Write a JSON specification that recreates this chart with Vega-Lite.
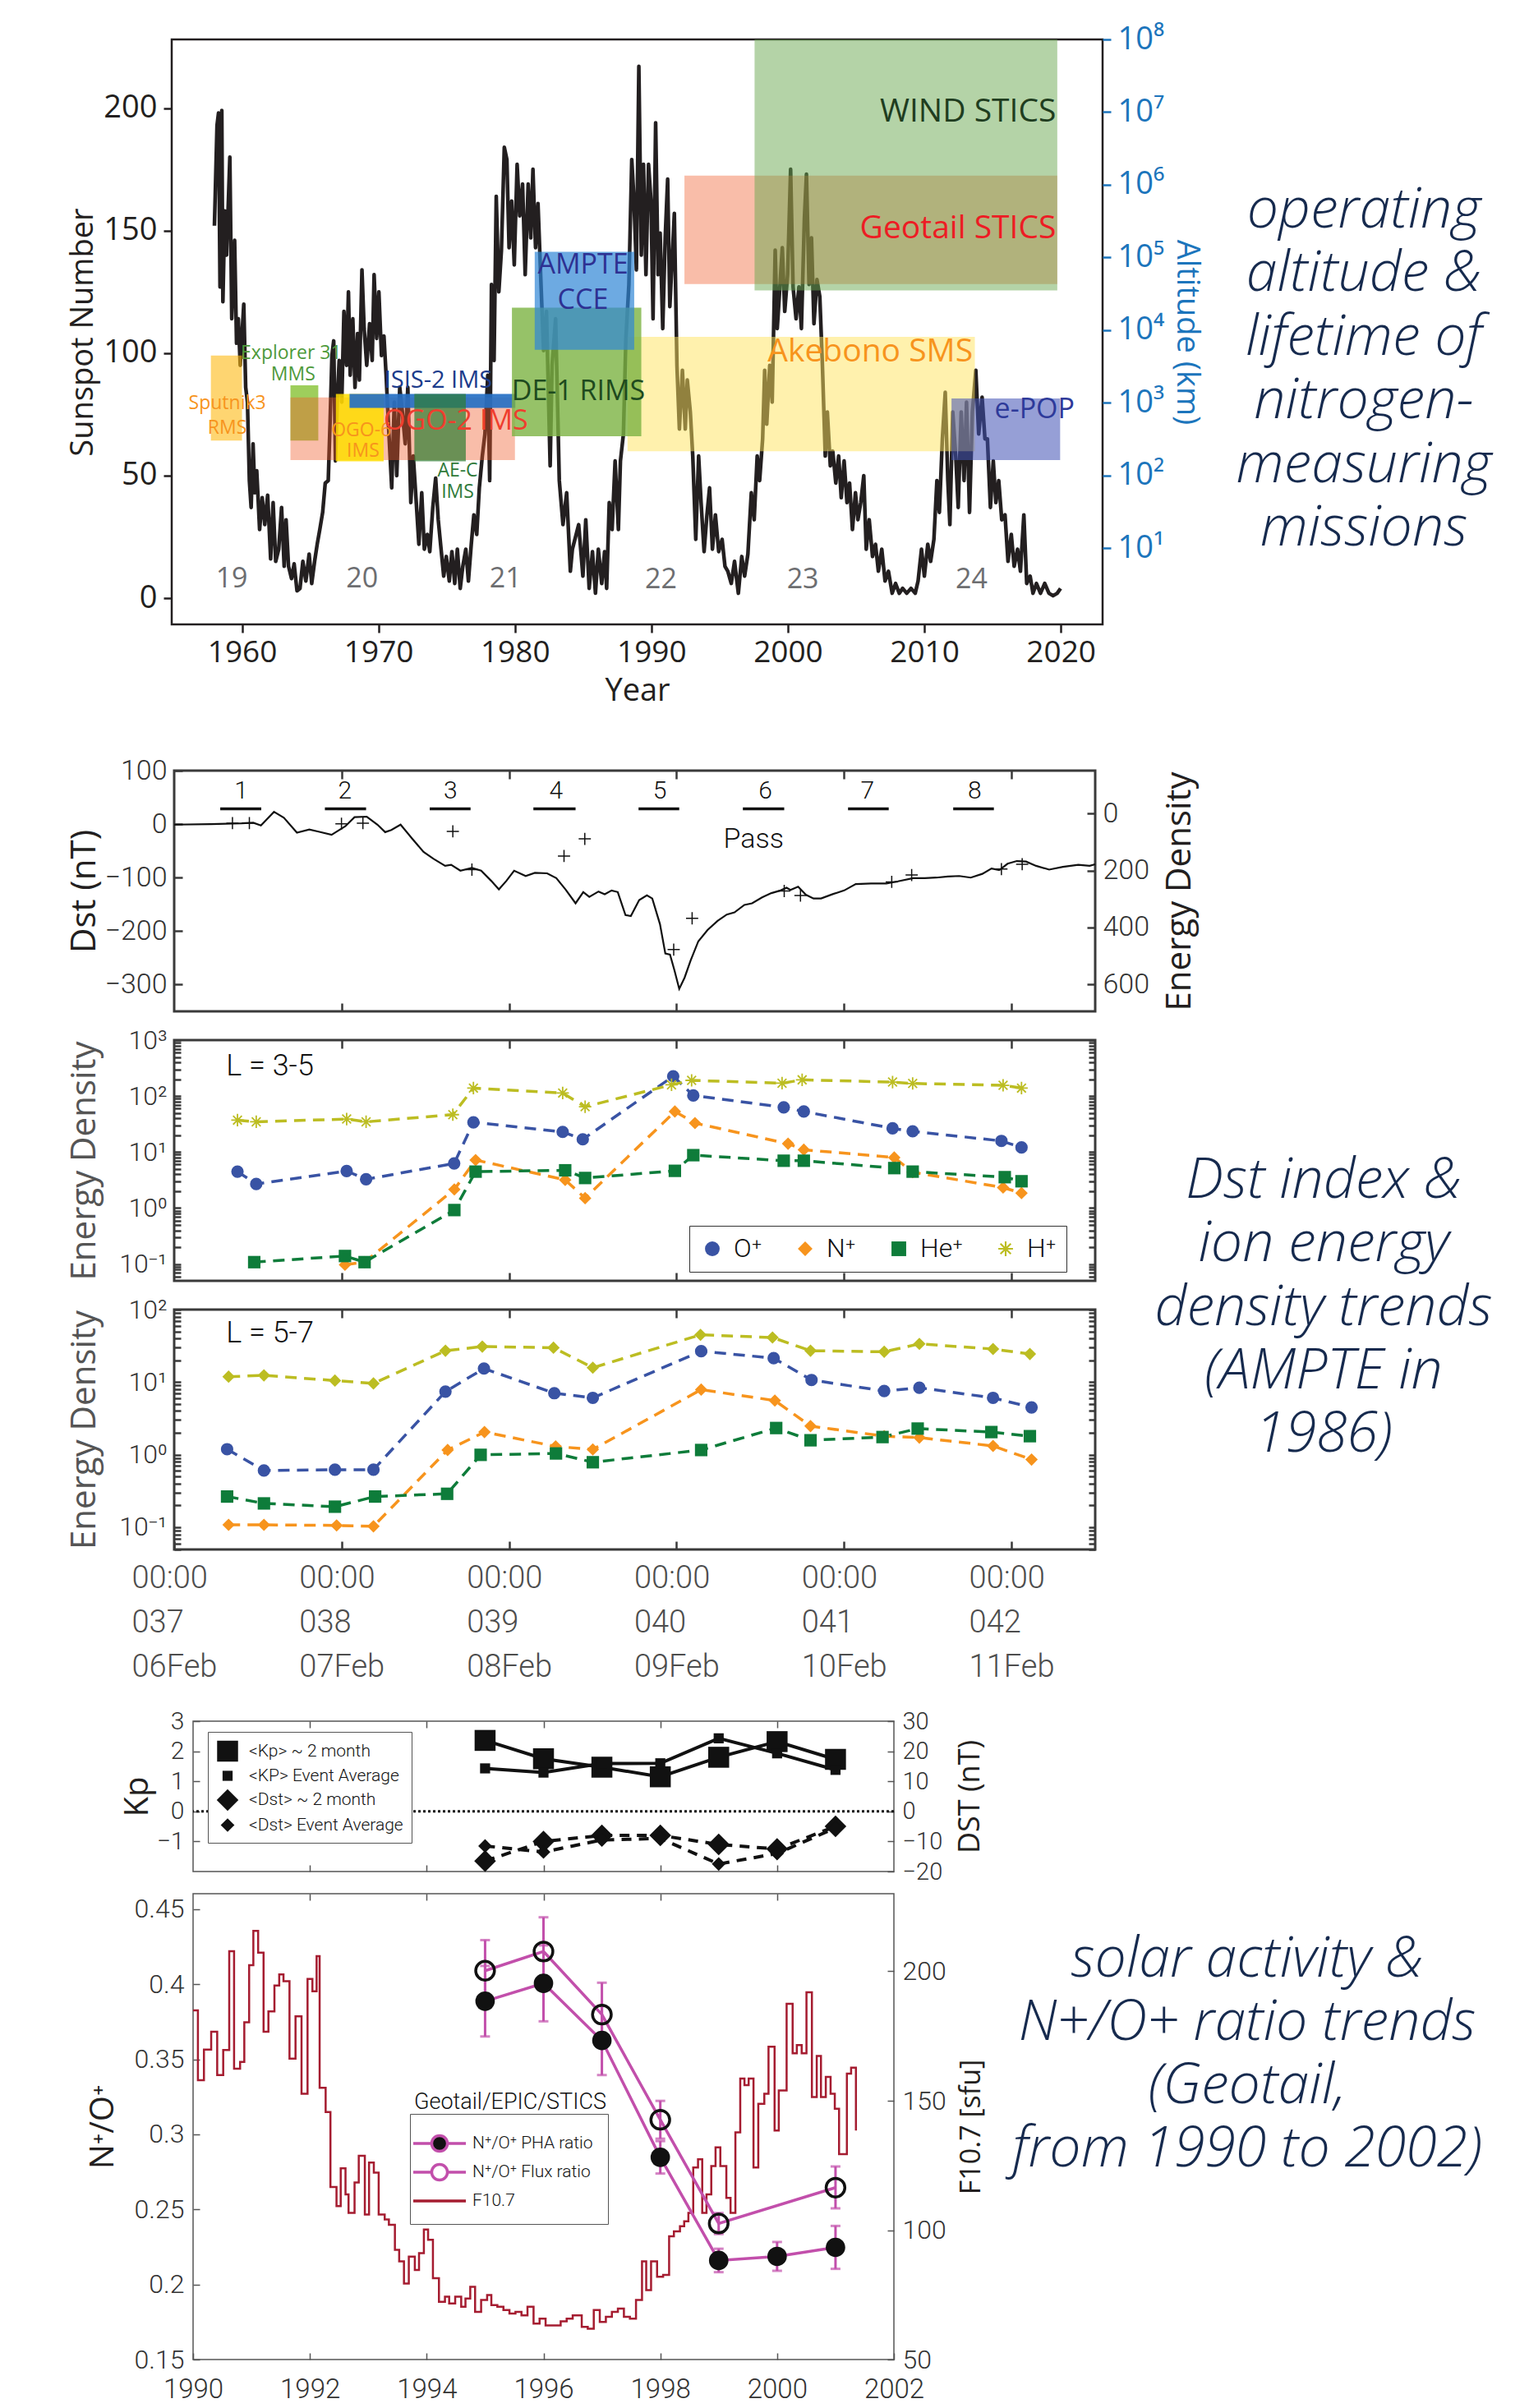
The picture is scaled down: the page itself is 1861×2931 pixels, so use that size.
{
  "$schema": "https://vega.github.io/schema/vega-lite/v6.json",
  "background": "white",
  "padding": {"left": 78, "top": 27, "right": 0, "bottom": 0},
  "config": {
    "font": "Open Sans",
    "view": {"stroke": null},
    "axis": {"grid": false, "domain": false, "labelOverlap": false, "labelColor": "#231F20", "titleColor": "#231F20", "tickColor": "#231F20", "titleFontWeight": "normal", "labelFont": "Open Sans", "titleFont": "Open Sans"},
    "legend": {"titleFontWeight": "normal"}
  },
  "datasets": {
    "ssn": [
      {"year":1957.98,"ssn":152},{"year":1958.17,"ssn":193},{"year":1958.28,"ssn":198},{"year":1958.39,"ssn":127},{"year":1958.52,"ssn":199},{"year":1958.60,"ssn":121},{"year":1958.74,"ssn":158},{"year":1958.87,"ssn":140},{"year":1959.11,"ssn":180},{"year":1959.25,"ssn":114},{"year":1959.46,"ssn":146},{"year":1959.60,"ssn":104},{"year":1959.73,"ssn":114},{"year":1959.87,"ssn":95},{"year":1960.13,"ssn":120},{"year":1960.27,"ssn":86},{"year":1960.40,"ssn":80},{"year":1960.54,"ssn":48},{"year":1960.67,"ssn":37},{"year":1960.81,"ssn":63},{"year":1960.94,"ssn":43},{"year":1961.08,"ssn":52},{"year":1961.29,"ssn":28},{"year":1961.48,"ssn":41},{"year":1961.67,"ssn":30},{"year":1961.88,"ssn":42},{"year":1962.10,"ssn":16},{"year":1962.28,"ssn":39},{"year":1962.47,"ssn":15},{"year":1962.69,"ssn":20},{"year":1962.90,"ssn":37},{"year":1963.09,"ssn":13},{"year":1963.23,"ssn":32},{"year":1963.41,"ssn":13},{"year":1963.63,"ssn":8},{"year":1963.82,"ssn":14},{"year":1964.03,"ssn":3},{"year":1964.25,"ssn":4},{"year":1964.46,"ssn":15},{"year":1964.68,"ssn":7},{"year":1964.92,"ssn":18},{"year":1965.11,"ssn":6},{"year":1965.32,"ssn":15},{"year":1965.51,"ssn":22},{"year":1965.70,"ssn":28},{"year":1965.91,"ssn":35},{"year":1966.10,"ssn":47},{"year":1966.32,"ssn":48},{"year":1966.45,"ssn":71},{"year":1966.59,"ssn":99},{"year":1966.72,"ssn":105},{"year":1966.85,"ssn":56},{"year":1966.99,"ssn":82},{"year":1967.12,"ssn":97},{"year":1967.31,"ssn":80},{"year":1967.47,"ssn":117},{"year":1967.66,"ssn":95},{"year":1967.80,"ssn":125},{"year":1967.93,"ssn":91},{"year":1968.12,"ssn":114},{"year":1968.28,"ssn":86},{"year":1968.47,"ssn":108},{"year":1968.60,"ssn":89},{"year":1968.79,"ssn":134},{"year":1968.95,"ssn":110},{"year":1969.14,"ssn":95},{"year":1969.35,"ssn":112},{"year":1969.54,"ssn":97},{"year":1969.68,"ssn":132},{"year":1969.87,"ssn":106},{"year":1970.03,"ssn":125},{"year":1970.22,"ssn":99},{"year":1970.40,"ssn":107},{"year":1970.56,"ssn":91},{"year":1970.75,"ssn":69},{"year":1970.97,"ssn":45},{"year":1971.16,"ssn":80},{"year":1971.34,"ssn":50},{"year":1971.56,"ssn":86},{"year":1971.75,"ssn":76},{"year":1971.96,"ssn":63},{"year":1972.15,"ssn":86},{"year":1972.37,"ssn":39},{"year":1972.55,"ssn":58},{"year":1972.77,"ssn":39},{"year":1972.96,"ssn":22},{"year":1973.17,"ssn":43},{"year":1973.36,"ssn":20},{"year":1973.58,"ssn":26},{"year":1973.76,"ssn":19},{"year":1973.98,"ssn":37},{"year":1974.19,"ssn":49},{"year":1974.38,"ssn":32},{"year":1974.57,"ssn":21},{"year":1974.78,"ssn":9},{"year":1974.97,"ssn":17},{"year":1975.19,"ssn":7},{"year":1975.38,"ssn":19},{"year":1975.59,"ssn":6},{"year":1975.78,"ssn":20},{"year":1975.99,"ssn":4},{"year":1976.18,"ssn":13},{"year":1976.40,"ssn":20},{"year":1976.59,"ssn":7},{"year":1976.80,"ssn":22},{"year":1976.99,"ssn":34},{"year":1977.20,"ssn":26},{"year":1977.39,"ssn":45},{"year":1977.61,"ssn":58},{"year":1977.80,"ssn":67},{"year":1978.01,"ssn":91},{"year":1978.15,"ssn":48},{"year":1978.28,"ssn":128},{"year":1978.47,"ssn":97},{"year":1978.63,"ssn":164},{"year":1978.82,"ssn":125},{"year":1979.01,"ssn":142},{"year":1979.22,"ssn":184},{"year":1979.41,"ssn":179},{"year":1979.57,"ssn":143},{"year":1979.76,"ssn":162},{"year":1979.95,"ssn":136},{"year":1980.16,"ssn":177},{"year":1980.35,"ssn":156},{"year":1980.56,"ssn":169},{"year":1980.75,"ssn":132},{"year":1980.97,"ssn":169},{"year":1981.16,"ssn":147},{"year":1981.32,"ssn":175},{"year":1981.51,"ssn":143},{"year":1981.69,"ssn":161},{"year":1981.91,"ssn":128},{"year":1982.10,"ssn":101},{"year":1982.31,"ssn":117},{"year":1982.58,"ssn":54},{"year":1982.72,"ssn":95},{"year":1982.98,"ssn":114},{"year":1983.25,"ssn":48},{"year":1983.52,"ssn":30},{"year":1983.79,"ssn":43},{"year":1984.06,"ssn":11},{"year":1984.21,"ssn":20},{"year":1984.67,"ssn":30},{"year":1984.98,"ssn":9},{"year":1985.19,"ssn":32},{"year":1985.44,"ssn":4},{"year":1985.68,"ssn":19},{"year":1985.90,"ssn":2},{"year":1986.11,"ssn":20},{"year":1986.36,"ssn":6},{"year":1986.57,"ssn":19},{"year":1986.72,"ssn":4},{"year":1986.91,"ssn":39},{"year":1987.12,"ssn":28},{"year":1987.34,"ssn":56},{"year":1987.58,"ssn":28},{"year":1987.73,"ssn":56},{"year":1987.95,"ssn":67},{"year":1988.13,"ssn":106},{"year":1988.35,"ssn":128},{"year":1988.56,"ssn":179},{"year":1988.71,"ssn":164},{"year":1988.90,"ssn":134},{"year":1989.08,"ssn":217},{"year":1989.26,"ssn":140},{"year":1989.42,"ssn":177},{"year":1989.60,"ssn":132},{"year":1989.79,"ssn":177},{"year":1989.97,"ssn":162},{"year":1990.12,"ssn":114},{"year":1990.31,"ssn":194},{"year":1990.49,"ssn":132},{"year":1990.64,"ssn":149},{"year":1990.83,"ssn":110},{"year":1991.01,"ssn":147},{"year":1991.19,"ssn":171},{"year":1991.35,"ssn":119},{"year":1991.50,"ssn":136},{"year":1991.68,"ssn":157},{"year":1991.87,"ssn":95},{"year":1992.05,"ssn":69},{"year":1992.27,"ssn":93},{"year":1992.48,"ssn":69},{"year":1992.63,"ssn":89},{"year":1992.85,"ssn":76},{"year":1993.03,"ssn":58},{"year":1993.25,"ssn":24},{"year":1993.46,"ssn":58},{"year":1993.64,"ssn":39},{"year":1993.86,"ssn":19},{"year":1994.07,"ssn":34},{"year":1994.26,"ssn":45},{"year":1994.47,"ssn":20},{"year":1994.69,"ssn":34},{"year":1994.93,"ssn":19},{"year":1995.18,"ssn":24},{"year":1995.39,"ssn":13},{"year":1995.60,"ssn":11},{"year":1995.85,"ssn":6},{"year":1996.09,"ssn":15},{"year":1996.37,"ssn":2},{"year":1996.62,"ssn":17},{"year":1996.83,"ssn":9},{"year":1997.07,"ssn":18},{"year":1997.32,"ssn":43},{"year":1997.53,"ssn":32},{"year":1997.75,"ssn":58},{"year":1997.93,"ssn":48},{"year":1998.15,"ssn":65},{"year":1998.30,"ssn":93},{"year":1998.45,"ssn":71},{"year":1998.67,"ssn":95},{"year":1998.85,"ssn":80},{"year":1999.07,"ssn":142},{"year":1999.22,"ssn":110},{"year":1999.37,"ssn":123},{"year":1999.59,"ssn":143},{"year":1999.77,"ssn":117},{"year":1999.98,"ssn":132},{"year":2000.20,"ssn":175},{"year":2000.38,"ssn":127},{"year":2000.60,"ssn":114},{"year":2000.81,"ssn":127},{"year":2000.99,"ssn":110},{"year":2001.21,"ssn":155},{"year":2001.36,"ssn":173},{"year":2001.55,"ssn":128},{"year":2001.73,"ssn":147},{"year":2001.91,"ssn":112},{"year":2002.13,"ssn":130},{"year":2002.34,"ssn":123},{"year":2002.53,"ssn":95},{"year":2002.74,"ssn":58},{"year":2002.89,"ssn":76},{"year":2003.11,"ssn":54},{"year":2003.29,"ssn":60},{"year":2003.51,"ssn":47},{"year":2003.72,"ssn":58},{"year":2003.91,"ssn":41},{"year":2004.12,"ssn":56},{"year":2004.33,"ssn":39},{"year":2004.52,"ssn":47},{"year":2004.73,"ssn":28},{"year":2004.95,"ssn":43},{"year":2005.13,"ssn":32},{"year":2005.34,"ssn":39},{"year":2005.56,"ssn":50},{"year":2005.74,"ssn":20},{"year":2005.96,"ssn":32},{"year":2006.20,"ssn":17},{"year":2006.42,"ssn":22},{"year":2006.63,"ssn":11},{"year":2006.88,"ssn":20},{"year":2007.12,"ssn":7},{"year":2007.37,"ssn":11},{"year":2007.64,"ssn":2},{"year":2007.89,"ssn":6},{"year":2008.16,"ssn":2},{"year":2008.41,"ssn":4},{"year":2008.71,"ssn":2},{"year":2009.02,"ssn":4},{"year":2009.33,"ssn":2},{"year":2009.54,"ssn":7},{"year":2009.79,"ssn":20},{"year":2010.00,"ssn":9},{"year":2010.25,"ssn":22},{"year":2010.46,"ssn":15},{"year":2010.70,"ssn":24},{"year":2010.92,"ssn":48},{"year":2011.10,"ssn":35},{"year":2011.32,"ssn":65},{"year":2011.53,"ssn":84},{"year":2011.72,"ssn":48},{"year":2011.87,"ssn":30},{"year":2012.08,"ssn":76},{"year":2012.30,"ssn":58},{"year":2012.48,"ssn":37},{"year":2012.70,"ssn":76},{"year":2012.91,"ssn":48},{"year":2013.09,"ssn":80},{"year":2013.31,"ssn":35},{"year":2013.52,"ssn":76},{"year":2013.77,"ssn":93},{"year":2013.98,"ssn":67},{"year":2014.23,"ssn":82},{"year":2014.44,"ssn":65},{"year":2014.62,"ssn":65},{"year":2014.84,"ssn":37},{"year":2015.05,"ssn":56},{"year":2015.24,"ssn":39},{"year":2015.45,"ssn":48},{"year":2015.67,"ssn":32},{"year":2015.91,"ssn":34},{"year":2016.13,"ssn":15},{"year":2016.37,"ssn":26},{"year":2016.58,"ssn":13},{"year":2016.83,"ssn":20},{"year":2017.04,"ssn":11},{"year":2017.29,"ssn":34},{"year":2017.50,"ssn":6},{"year":2017.75,"ssn":9},{"year":2017.96,"ssn":2},{"year":2018.21,"ssn":6},{"year":2018.51,"ssn":2},{"year":2018.82,"ssn":6},{"year":2019.13,"ssn":2},{"year":2019.43,"ssn":1},{"year":2019.74,"ssn":2},{"year":2019.98,"ssn":4}
    ],
    "cycles": [
      {"cycle":"19","year":1959.25,"ssn":7.8},{"cycle":"20","year":1968.8,"ssn":7.8},{"cycle":"21","year":1979.3,"ssn":7.8},{"cycle":"22","year":1990.7,"ssn":7.5},{"cycle":"23","year":2001.09,"ssn":7.5},{"cycle":"24","year":2013.46,"ssn":7.5}
    ],
    "missions": [
      {"mission":"Sputnik3 RMS","start":1957.72,"end":1960.0,"alt_lo":302,"alt_hi":4467},
      {"mission":"Explorer 31 MMS","start":1963.55,"end":1965.59,"alt_lo":302,"alt_hi":1738},
      {"mission":"OGO-2 IMS","start":1963.55,"end":1980.0,"alt_lo":163,"alt_hi":1180},
      {"mission":"OGO-6 IMS","start":1966.88,"end":1970.38,"alt_lo":156,"alt_hi":1324},
      {"mission":"ISIS-2 IMS","start":1967.88,"end":1980.03,"alt_lo":847,"alt_hi":1324},
      {"mission":"AE-C IMS","start":1972.63,"end":1976.4,"alt_lo":156,"alt_hi":1324},
      {"mission":"Akebono SMS","start":1988.25,"end":2013.7,"alt_lo":215,"alt_hi":8050},
      {"mission":"DE-1 RIMS","start":1979.78,"end":1989.26,"alt_lo":346,"alt_hi":20280},
      {"mission":"AMPTE CCE","start":1981.45,"end":1988.74,"alt_lo":5370,"alt_hi":119700},
      {"mission":"Geotail STICS","start":1992.42,"end":2019.74,"alt_lo":42960,"alt_hi":1333000},
      {"mission":"WIND STICS","start":1997.56,"end":2019.74,"alt_lo":35080,"alt_hi":100000000},
      {"mission":"e-POP","start":2011.99,"end":2019.95,"alt_lo":163,"alt_hi":1148}
    ],
    "lab_small": [
      {"label":"Sputnik3","mission":"Sputnik3 RMS","year":1958.92,"alt":977},
      {"label":"RMS","mission":"Sputnik3 RMS","year":1958.92,"alt":449},
      {"label":"Explorer 31","mission":"Explorer 31 MMS","year":1963.6,"alt":4786},
      {"label":"MMS","mission":"Explorer 31 MMS","year":1963.75,"alt":2427},
      {"label":"OGO-6","mission":"OGO-6 IMS","year":1968.74,"alt":411},
      {"label":"IMS","mission":"OGO-6 IMS","year":1968.87,"alt":214},
      {"label":"AE-C","mission":"AE-C IMS","year":1975.8,"alt":117},
      {"label":"IMS","mission":"AE-C IMS","year":1975.8,"alt":59.4}
    ],
    "lab_isis": [
      {"label":"ISIS-2 IMS","mission":"ISIS-2 IMS","year":1974.38,"alt":2013}
    ],
    "lab_mid": [
      {"label":"OGO-2 IMS","mission":"OGO-2 IMS","year":1975.67,"alt":557},
      {"label":"DE-1 RIMS","mission":"DE-1 RIMS","year":1984.65,"alt":1403},
      {"label":"AMPTE","mission":"AMPTE CCE","year":1984.98,"alt":77600},
      {"label":"CCE","mission":"AMPTE CCE","year":1984.98,"alt":25700}
    ],
    "lab_right": [
      {"label":"WIND STICS","mission":"WIND STICS","year":2019.65,"alt":10000000},
      {"label":"Geotail STICS","mission":"Geotail STICS","year":2019.65,"alt":251000},
      {"label":"Akebono SMS","mission":"Akebono SMS","year":2013.55,"alt":5000}
    ],
    "lab_left": [
      {"label":"e-POP","mission":"e-POP","year":2015.15,"alt":789}
    ],
    "dst": [
      {"day":37.000,"dst":-1},{"day":37.220,"dst":0},{"day":37.403,"dst":1.5},{"day":37.472,"dst":2.6},{"day":37.518,"dst":-2.6},{"day":37.596,"dst":23},{"day":37.655,"dst":12},{"day":37.733,"dst":-16},{"day":37.807,"dst":-10},{"day":37.862,"dst":-14},{"day":37.940,"dst":-20},{"day":38.022,"dst":-4},{"day":38.077,"dst":13},{"day":38.150,"dst":14},{"day":38.214,"dst":-1},{"day":38.260,"dst":-15},{"day":38.297,"dst":-11},{"day":38.352,"dst":-1},{"day":38.421,"dst":-27},{"day":38.489,"dst":-52},{"day":38.549,"dst":-65},{"day":38.618,"dst":-78},{"day":38.654,"dst":-76},{"day":38.709,"dst":-87},{"day":38.778,"dst":-82},{"day":38.833,"dst":-87},{"day":38.893,"dst":-106},{"day":38.939,"dst":-122},{"day":38.984,"dst":-106},{"day":39.030,"dst":-87},{"day":39.099,"dst":-97},{"day":39.154,"dst":-91},{"day":39.227,"dst":-92},{"day":39.282,"dst":-101},{"day":39.337,"dst":-122},{"day":39.397,"dst":-148},{"day":39.443,"dst":-127},{"day":39.479,"dst":-136},{"day":39.534,"dst":-126},{"day":39.571,"dst":-131},{"day":39.612,"dst":-124},{"day":39.649,"dst":-127},{"day":39.695,"dst":-170},{"day":39.727,"dst":-172},{"day":39.777,"dst":-142},{"day":39.823,"dst":-133},{"day":39.855,"dst":-139},{"day":39.901,"dst":-187},{"day":39.933,"dst":-242},{"day":39.961,"dst":-244},{"day":39.988,"dst":-274},{"day":40.016,"dst":-308},{"day":40.048,"dst":-287},{"day":40.084,"dst":-255},{"day":40.130,"dst":-219},{"day":40.185,"dst":-198},{"day":40.245,"dst":-181},{"day":40.300,"dst":-169},{"day":40.346,"dst":-165},{"day":40.405,"dst":-151},{"day":40.451,"dst":-148},{"day":40.511,"dst":-137},{"day":40.566,"dst":-129},{"day":40.621,"dst":-124},{"day":40.657,"dst":-119},{"day":40.680,"dst":-123},{"day":40.726,"dst":-117},{"day":40.772,"dst":-132},{"day":40.818,"dst":-139},{"day":40.863,"dst":-139},{"day":40.932,"dst":-131},{"day":41.001,"dst":-124},{"day":41.070,"dst":-112},{"day":41.161,"dst":-111},{"day":41.253,"dst":-111},{"day":41.322,"dst":-107},{"day":41.413,"dst":-101},{"day":41.482,"dst":-101},{"day":41.551,"dst":-100},{"day":41.620,"dst":-98},{"day":41.688,"dst":-97},{"day":41.757,"dst":-100},{"day":41.826,"dst":-93},{"day":41.881,"dst":-83},{"day":41.927,"dst":-86},{"day":41.977,"dst":-74},{"day":42.032,"dst":-69},{"day":42.087,"dst":-70},{"day":42.147,"dst":-78},{"day":42.225,"dst":-85},{"day":42.307,"dst":-80},{"day":42.399,"dst":-76},{"day":42.467,"dst":-78},{"day":42.500,"dst":-75}
    ],
    "crosses": [
      {"day":37.348,"ed":33.6},{"day":37.449,"ed":33.6},{"day":37.999,"ed":35.6},{"day":38.127,"ed":33.6},{"day":38.664,"ed":62.5},{"day":38.778,"ed":197},{"day":39.328,"ed":149},{"day":39.452,"ed":89},{"day":39.983,"ed":478},{"day":40.093,"ed":368},{"day":40.643,"ed":272},{"day":40.740,"ed":288},{"day":41.285,"ed":240},{"day":41.404,"ed":216},{"day":41.940,"ed":195},{"day":42.064,"ed":178}
    ],
    "passes": [
      {"pass":"1","day":37.40,"d0":37.275,"d1":37.52},{"pass":"2","day":38.02,"d0":37.90,"d1":38.146},{"pass":"3","day":38.65,"d0":38.526,"d1":38.77},{"pass":"4","day":39.28,"d0":39.145,"d1":39.397},{"pass":"5","day":39.90,"d0":39.773,"d1":40.016},{"pass":"6","day":40.53,"d0":40.396,"d1":40.643},{"pass":"7","day":41.14,"d0":41.024,"d1":41.267},{"pass":"8","day":41.78,"d0":41.652,"d1":41.895}
    ],
    "l35": [
      {"ion":"O⁺","day":37.378,"v":4.47},{"ion":"O⁺","day":37.49,"v":2.69},{"ion":"O⁺","day":38.03,"v":4.57},{"ion":"O⁺","day":38.146,"v":3.26},{"ion":"O⁺","day":38.672,"v":6.27},{"ion":"O⁺","day":38.787,"v":34},{"ion":"O⁺","day":39.32,"v":22.9},{"ion":"O⁺","day":39.44,"v":16.9},{"ion":"O⁺","day":39.98,"v":226},{"ion":"O⁺","day":40.1,"v":102.6},{"ion":"O⁺","day":40.64,"v":63},{"ion":"O⁺","day":40.76,"v":53},{"ion":"O⁺","day":41.29,"v":26.5},{"ion":"O⁺","day":41.41,"v":23.5},{"ion":"O⁺","day":41.94,"v":15.8},{"ion":"O⁺","day":42.06,"v":12.1},
      {"ion":"N⁺","day":38.02,"v":0.097},{"ion":"N⁺","day":38.137,"v":0.108},{"ion":"N⁺","day":38.673,"v":2.15},{"ion":"N⁺","day":38.80,"v":7.2},{"ion":"N⁺","day":39.335,"v":3.18},{"ion":"N⁺","day":39.454,"v":1.5},{"ion":"N⁺","day":39.99,"v":53},{"ion":"N⁺","day":40.11,"v":32.9},{"ion":"N⁺","day":40.666,"v":14.1},{"ion":"N⁺","day":40.76,"v":11.0},{"ion":"N⁺","day":41.30,"v":8.0},{"ion":"N⁺","day":41.41,"v":4.37},{"ion":"N⁺","day":41.95,"v":2.32},{"ion":"N⁺","day":42.06,"v":1.85},
      {"ion":"He⁺","day":37.478,"v":0.108},{"ion":"He⁺","day":38.02,"v":0.139},{"ion":"He⁺","day":38.137,"v":0.108},{"ion":"He⁺","day":38.673,"v":0.92},{"ion":"He⁺","day":38.80,"v":4.47},{"ion":"He⁺","day":39.335,"v":4.72},{"ion":"He⁺","day":39.454,"v":3.44},{"ion":"He⁺","day":39.99,"v":4.62},{"ion":"He⁺","day":40.10,"v":8.8},{"ion":"He⁺","day":40.64,"v":7.0},{"ion":"He⁺","day":40.76,"v":7.0},{"ion":"He⁺","day":41.30,"v":5.17},{"ion":"He⁺","day":41.41,"v":4.47},{"ion":"He⁺","day":41.96,"v":3.56},{"ion":"He⁺","day":42.06,"v":3.01},
      {"ion":"H⁺","day":37.378,"v":37.2},{"ion":"H⁺","day":37.49,"v":34.7},{"ion":"H⁺","day":38.03,"v":38.9},{"ion":"H⁺","day":38.146,"v":34.7},{"ion":"H⁺","day":38.664,"v":46.6},{"ion":"H⁺","day":38.787,"v":139},{"ion":"H⁺","day":39.32,"v":113.5},{"ion":"H⁺","day":39.454,"v":64.5},{"ion":"H⁺","day":39.97,"v":159},{"ion":"H⁺","day":40.09,"v":190.7},{"ion":"H⁺","day":40.63,"v":170},{"ion":"H⁺","day":40.75,"v":195},{"ion":"H⁺","day":41.29,"v":178},{"ion":"H⁺","day":41.41,"v":168},{"ion":"H⁺","day":41.95,"v":155.7},{"ion":"H⁺","day":42.06,"v":139}
    ],
    "l57": [
      {"ion":"O⁺","day":37.316,"v":1.19},{"ion":"O⁺","day":37.536,"v":0.605},{"ion":"O⁺","day":37.96,"v":0.621},{"ion":"O⁺","day":38.19,"v":0.621},{"ion":"O⁺","day":38.62,"v":7.41},{"ion":"O⁺","day":38.85,"v":15.4},{"ion":"O⁺","day":39.27,"v":7.04},{"ion":"O⁺","day":39.50,"v":6.07},{"ion":"O⁺","day":40.147,"v":26.7},{"ion":"O⁺","day":40.58,"v":21.4},{"ion":"O⁺","day":40.806,"v":10.7},{"ion":"O⁺","day":41.24,"v":7.55},{"ion":"O⁺","day":41.45,"v":8.37},{"ion":"O⁺","day":41.89,"v":6.07},{"ion":"O⁺","day":42.12,"v":4.48},
      {"ion":"N⁺","day":37.325,"v":0.108},{"ion":"N⁺","day":37.536,"v":0.108},{"ion":"N⁺","day":37.97,"v":0.106},{"ion":"N⁺","day":38.19,"v":0.103},{"ion":"N⁺","day":38.633,"v":1.16},{"ion":"N⁺","day":38.853,"v":2.05},{"ion":"N⁺","day":39.278,"v":1.30},{"ion":"N⁺","day":39.50,"v":1.18},{"ion":"N⁺","day":40.147,"v":7.89},{"ion":"N⁺","day":40.587,"v":5.57},{"ion":"N⁺","day":40.80,"v":2.48},{"ion":"N⁺","day":41.24,"v":1.80},{"ion":"N⁺","day":41.45,"v":1.72},{"ion":"N⁺","day":41.89,"v":1.32},{"ion":"N⁺","day":42.12,"v":0.857},
      {"ion":"He⁺","day":37.316,"v":0.265},{"ion":"He⁺","day":37.536,"v":0.213},{"ion":"He⁺","day":37.96,"v":0.192},{"ion":"He⁺","day":38.20,"v":0.265},{"ion":"He⁺","day":38.63,"v":0.289},{"ion":"He⁺","day":38.83,"v":0.995},{"ion":"He⁺","day":39.28,"v":1.04},{"ion":"He⁺","day":39.50,"v":0.787},{"ion":"He⁺","day":40.147,"v":1.16},{"ion":"He⁺","day":40.595,"v":2.33},{"ion":"He⁺","day":40.80,"v":1.58},{"ion":"He⁺","day":41.23,"v":1.75},{"ion":"He⁺","day":41.44,"v":2.29},{"ion":"He⁺","day":41.88,"v":2.05},{"ion":"He⁺","day":42.11,"v":1.80},
      {"ion":"H⁺","day":37.325,"v":11.9},{"ion":"H⁺","day":37.536,"v":12.4},{"ion":"H⁺","day":37.96,"v":10.5},{"ion":"H⁺","day":38.19,"v":9.6},{"ion":"H⁺","day":38.62,"v":27.1},{"ion":"H⁺","day":38.84,"v":30.9},{"ion":"H⁺","day":39.265,"v":29.8},{"ion":"H⁺","day":39.50,"v":15.8},{"ion":"H⁺","day":40.143,"v":44.9},{"ion":"H⁺","day":40.573,"v":41.2},{"ion":"H⁺","day":40.80,"v":27.1},{"ion":"H⁺","day":41.24,"v":26.2},{"ion":"H⁺","day":41.45,"v":33.7},{"ion":"H⁺","day":41.89,"v":28.6},{"ion":"H⁺","day":42.11,"v":24.4}
    ],
    "kp": [
      {"series":"<Kp> ~ 2 month","year":1995,"kp":2.36},{"series":"<Kp> ~ 2 month","year":1996,"kp":1.75},{"series":"<Kp> ~ 2 month","year":1997,"kp":1.47},{"series":"<Kp> ~ 2 month","year":1998,"kp":1.15},{"series":"<Kp> ~ 2 month","year":1999,"kp":1.80},{"series":"<Kp> ~ 2 month","year":2000,"kp":2.32},{"series":"<Kp> ~ 2 month","year":2001,"kp":1.73},
      {"series":"<KP> Event Average","year":1995,"kp":1.43},{"series":"<KP> Event Average","year":1996,"kp":1.29},{"series":"<KP> Event Average","year":1997,"kp":1.59},{"series":"<KP> Event Average","year":1998,"kp":1.60},{"series":"<KP> Event Average","year":1999,"kp":2.43},{"series":"<KP> Event Average","year":2000,"kp":1.93},{"series":"<KP> Event Average","year":2001,"kp":1.38}
    ],
    "dstavg": [
      {"series":"<Dst> ~ 2 month","year":1995,"dst":-16.5},{"series":"<Dst> ~ 2 month","year":1996,"dst":-10},{"series":"<Dst> ~ 2 month","year":1997,"dst":-8},{"series":"<Dst> ~ 2 month","year":1998,"dst":-8},{"series":"<Dst> ~ 2 month","year":1999,"dst":-11},{"series":"<Dst> ~ 2 month","year":2000,"dst":-12.5},{"series":"<Dst> ~ 2 month","year":2001,"dst":-5},
      {"series":"<Dst> Event Average","year":1995,"dst":-11.5},{"series":"<Dst> Event Average","year":1996,"dst":-13.5},{"series":"<Dst> Event Average","year":1997,"dst":-9.5},{"series":"<Dst> Event Average","year":1998,"dst":-9},{"series":"<Dst> Event Average","year":1999,"dst":-17.5},{"series":"<Dst> Event Average","year":2000,"dst":-14},{"series":"<Dst> Event Average","year":2001,"dst":-5.5}
    ],
    "ratio": [
      {"series":"N⁺/O⁺ PHA ratio","year":1995,"r":0.3887},{"series":"N⁺/O⁺ PHA ratio","year":1996,"r":0.4006},{"series":"N⁺/O⁺ PHA ratio","year":1997,"r":0.3625},{"series":"N⁺/O⁺ PHA ratio","year":1998,"r":0.2847},{"series":"N⁺/O⁺ PHA ratio","year":1999,"r":0.2160},{"series":"N⁺/O⁺ PHA ratio","year":2000,"r":0.2187},{"series":"N⁺/O⁺ PHA ratio","year":2001,"r":0.2247},
      {"series":"N⁺/O⁺ Flux ratio","year":1995,"r":0.4090},{"series":"N⁺/O⁺ Flux ratio","year":1996,"r":0.4218},{"series":"N⁺/O⁺ Flux ratio","year":1997,"r":0.3798},{"series":"N⁺/O⁺ Flux ratio","year":1998,"r":0.3097},{"series":"N⁺/O⁺ Flux ratio","year":1999,"r":0.2406},{"series":"N⁺/O⁺ Flux ratio","year":2001,"r":0.2645}
    ],
    "ratio_err": [
      {"series":"N⁺/O⁺ PHA ratio","year":1995,"lo":0.3652,"hi":0.4122},{"series":"N⁺/O⁺ PHA ratio","year":1996,"lo":0.3753,"hi":0.4259},{"series":"N⁺/O⁺ PHA ratio","year":1997,"lo":0.3395,"hi":0.3855},{"series":"N⁺/O⁺ PHA ratio","year":1998,"lo":0.2739,"hi":0.2955},{"series":"N⁺/O⁺ PHA ratio","year":1999,"lo":0.2082,"hi":0.2238},{"series":"N⁺/O⁺ PHA ratio","year":2000,"lo":0.2091,"hi":0.2283},{"series":"N⁺/O⁺ PHA ratio","year":2001,"lo":0.2104,"hi":0.2390},
      {"series":"N⁺/O⁺ Flux ratio","year":1995,"lo":0.3886,"hi":0.4294},{"series":"N⁺/O⁺ Flux ratio","year":1996,"lo":0.3990,"hi":0.4446},{"series":"N⁺/O⁺ Flux ratio","year":1997,"lo":0.3590,"hi":0.4010},{"series":"N⁺/O⁺ Flux ratio","year":1998,"lo":0.2971,"hi":0.3223},{"series":"N⁺/O⁺ Flux ratio","year":1999,"lo":0.2336,"hi":0.2476},{"series":"N⁺/O⁺ Flux ratio","year":2001,"lo":0.2507,"hi":0.2786}
    ],
    "f107": [
      {"series":"F10.7","year":1990.000,"f107":184.9},{"series":"F10.7","year":1990.083,"f107":157.9},{"series":"F10.7","year":1990.186,"f107":169.8},{"series":"F10.7","year":1990.310,"f107":176.7},{"series":"F10.7","year":1990.413,"f107":159.9},{"series":"F10.7","year":1990.516,"f107":169.6},{"series":"F10.7","year":1990.619,"f107":207.8},{"series":"F10.7","year":1990.702,"f107":162.4},{"series":"F10.7","year":1990.805,"f107":165.0},{"series":"F10.7","year":1990.877,"f107":180.3},{"series":"F10.7","year":1990.960,"f107":202.4},{"series":"F10.7","year":1991.032,"f107":215.6},{"series":"F10.7","year":1991.114,"f107":207.2},{"series":"F10.7","year":1991.207,"f107":176.7},{"series":"F10.7","year":1991.290,"f107":184.5},{"series":"F10.7","year":1991.393,"f107":194.5},{"series":"F10.7","year":1991.475,"f107":198.8},{"series":"F10.7","year":1991.548,"f107":196.2},{"series":"F10.7","year":1991.651,"f107":166.3},{"series":"F10.7","year":1991.754,"f107":182.6},{"series":"F10.7","year":1991.857,"f107":152.7},{"series":"F10.7","year":1991.960,"f107":197.1},{"series":"F10.7","year":1992.043,"f107":192.3},{"series":"F10.7","year":1992.115,"f107":205.9},{"series":"F10.7","year":1992.167,"f107":155.0},{"series":"F10.7","year":1992.270,"f107":145.6},{"series":"F10.7","year":1992.352,"f107":116.7},{"series":"F10.7","year":1992.456,"f107":109.3},{"series":"F10.7","year":1992.528,"f107":123.9},{"series":"F10.7","year":1992.610,"f107":113.8},{"series":"F10.7","year":1992.662,"f107":106.7},{"series":"F10.7","year":1992.765,"f107":118.4},{"series":"F10.7","year":1992.837,"f107":128.7},{"series":"F10.7","year":1992.941,"f107":106.0},{"series":"F10.7","year":1993.013,"f107":126.1},{"series":"F10.7","year":1993.095,"f107":122.2},{"series":"F10.7","year":1993.178,"f107":106.0},{"series":"F10.7","year":1993.281,"f107":104.1},{"series":"F10.7","year":1993.353,"f107":102.1},{"series":"F10.7","year":1993.456,"f107":92.4},{"series":"F10.7","year":1993.529,"f107":87.9},{"series":"F10.7","year":1993.611,"f107":79.4},{"series":"F10.7","year":1993.694,"f107":89.8},{"series":"F10.7","year":1993.797,"f107":84.6},{"series":"F10.7","year":1993.869,"f107":91.1},{"series":"F10.7","year":1993.952,"f107":100.2},{"series":"F10.7","year":1994.024,"f107":96.3},{"series":"F10.7","year":1994.107,"f107":81.4},{"series":"F10.7","year":1994.210,"f107":72.3},{"series":"F10.7","year":1994.313,"f107":74.3},{"series":"F10.7","year":1994.385,"f107":71.7},{"series":"F10.7","year":1994.488,"f107":74.3},{"series":"F10.7","year":1994.591,"f107":70.4},{"series":"F10.7","year":1994.664,"f107":73.6},{"series":"F10.7","year":1994.746,"f107":78.1},{"series":"F10.7","year":1994.829,"f107":68.4},{"series":"F10.7","year":1994.932,"f107":73.0},{"series":"F10.7","year":1995.035,"f107":74.9},{"series":"F10.7","year":1995.107,"f107":71.0},{"series":"F10.7","year":1995.210,"f107":70.4},{"series":"F10.7","year":1995.314,"f107":69.1},{"series":"F10.7","year":1995.417,"f107":67.8},{"series":"F10.7","year":1995.520,"f107":68.4},{"series":"F10.7","year":1995.623,"f107":67.1},{"series":"F10.7","year":1995.726,"f107":70.4},{"series":"F10.7","year":1995.830,"f107":63.9},{"series":"F10.7","year":1995.933,"f107":65.8},{"series":"F10.7","year":1996.036,"f107":63.2},{"series":"F10.7","year":1996.139,"f107":63.2},{"series":"F10.7","year":1996.294,"f107":64.8},{"series":"F10.7","year":1996.397,"f107":65.8},{"series":"F10.7","year":1996.500,"f107":67.1},{"series":"F10.7","year":1996.655,"f107":62.6},{"series":"F10.7","year":1996.758,"f107":61.9},{"series":"F10.7","year":1996.861,"f107":69.1},{"series":"F10.7","year":1996.964,"f107":64.5},{"series":"F10.7","year":1997.068,"f107":66.5},{"series":"F10.7","year":1997.171,"f107":68.4},{"series":"F10.7","year":1997.274,"f107":69.7},{"series":"F10.7","year":1997.377,"f107":66.5},{"series":"F10.7","year":1997.480,"f107":65.8},{"series":"F10.7","year":1997.584,"f107":73.0},{"series":"F10.7","year":1997.687,"f107":87.9},{"series":"F10.7","year":1997.759,"f107":76.8},{"series":"F10.7","year":1997.842,"f107":87.9},{"series":"F10.7","year":1997.945,"f107":82.0},{"series":"F10.7","year":1998.048,"f107":82.7},{"series":"F10.7","year":1998.151,"f107":97.6},{"series":"F10.7","year":1998.233,"f107":99.5},{"series":"F10.7","year":1998.337,"f107":101.5},{"series":"F10.7","year":1998.409,"f107":103.4},{"series":"F10.7","year":1998.481,"f107":106.7},{"series":"F10.7","year":1998.564,"f107":124.2},{"series":"F10.7","year":1998.646,"f107":127.4},{"series":"F10.7","year":1998.718,"f107":106.7},{"series":"F10.7","year":1998.791,"f107":113.8},{"series":"F10.7","year":1998.873,"f107":124.8},{"series":"F10.7","year":1998.946,"f107":132.0},{"series":"F10.7","year":1999.028,"f107":124.8},{"series":"F10.7","year":1999.131,"f107":112.5},{"series":"F10.7","year":1999.203,"f107":106.7},{"series":"F10.7","year":1999.286,"f107":137.8},{"series":"F10.7","year":1999.369,"f107":158.6},{"series":"F10.7","year":1999.441,"f107":156.0},{"series":"F10.7","year":1999.513,"f107":158.6},{"series":"F10.7","year":1999.596,"f107":124.2},{"series":"F10.7","year":1999.678,"f107":148.8},{"series":"F10.7","year":1999.781,"f107":152.7},{"series":"F10.7","year":1999.853,"f107":170.9},{"series":"F10.7","year":1999.957,"f107":138.5},{"series":"F10.7","year":2000.029,"f107":154.0},{"series":"F10.7","year":2000.163,"f107":187.5},{"series":"F10.7","year":2000.266,"f107":168.3},{"series":"F10.7","year":2000.338,"f107":171.5},{"series":"F10.7","year":2000.421,"f107":168.3},{"series":"F10.7","year":2000.503,"f107":191.9},{"series":"F10.7","year":2000.596,"f107":151.4},{"series":"F10.7","year":2000.679,"f107":167.3},{"series":"F10.7","year":2000.751,"f107":151.4},{"series":"F10.7","year":2000.834,"f107":159.2},{"series":"F10.7","year":2000.916,"f107":152.7},{"series":"F10.7","year":2000.988,"f107":146.9},{"series":"F10.7","year":2001.061,"f107":129.4},{"series":"F10.7","year":2001.195,"f107":160.5},{"series":"F10.7","year":2001.267,"f107":162.8},{"series":"F10.7","year":2001.350,"f107":138.5}
    ]
  },
  "vconcat": [
    {
      "vconcat": [
        {
          "hconcat": [
            {
              "width": 1, "height": 10,
              "data": {"values": [{"t": ""}]},
              "mark": {"type": "text"},
              "encoding": {"text": {"field": "t"}}
            },
            {
              "width": 1133, "height": 712,
              "view": {"stroke": "#231F20", "strokeWidth": 2.5},
              "layer": [
                {
                  "layer": [
                    {
                      "data": {"name": "ssn"},
                      "mark": {"type": "line", "color": "#231F20", "strokeWidth": 4.5, "strokeJoin": "round"},
                      "encoding": {
                        "x": {"field": "year", "type": "quantitative", "scale": {"domain": [1954.85, 2023.06], "nice": false, "zero": false},
                              "axis": {"title": "Year", "values": [1960,1970,1980,1990,2000,2010,2020], "format": "d", "tickSize": 10, "tickWidth": 2.5, "labelFontSize": 37, "titleFontSize": 38, "labelPadding": 6, "titlePadding": 10, "labelFlush": false}},
                        "y": {"field": "ssn", "type": "quantitative", "scale": {"domain": [-10.7, 228], "nice": false, "zero": false},
                              "axis": {"title": "Sunspot Number", "values": [0,50,100,150,200], "tickSize": 10, "tickWidth": 2.5, "labelFontSize": 38, "titleFontSize": 38, "labelPadding": 8, "titleX": -127, "titleBaseline": "top"}}
                      }
                    },
                    {
                      "data": {"name": "cycles"},
                      "mark": {"type": "text", "fontSize": 34, "color": "#6D6E71"},
                      "encoding": {
                        "x": {"field": "year", "type": "quantitative"},
                        "y": {"field": "ssn", "type": "quantitative"},
                        "text": {"field": "cycle"}
                      }
                    }
                  ]
                },
                {
                  "layer": [
                    {
                      "data": {"name": "missions"},
                      "mark": {"type": "rect"},
                      "encoding": {
                        "x": {"field": "start", "type": "quantitative"},
                        "x2": {"field": "end"},
                        "y": {"field": "alt_lo", "type": "quantitative", "scale": {"type": "log", "domain": [0.891, 100000000], "nice": false},
                              "axis": {"orient": "right", "title": "Altitude (km)", "values": [10,100,1000,10000,100000,1000000,10000000,100000000],
                                       "labelExpr": "'10' + ['⁰','¹','²','³','⁴','⁵','⁶','⁷','⁸'][round(log(datum.value)/LN10)]",
                                       "tickSize": 10, "tickWidth": 2.5, "tickColor": "#1C75BC", "labelColor": "#1C75BC", "titleColor": "#1C75BC", "labelFontSize": 38, "titleFontSize": 38, "labelPadding": 8, "titlePadding": 8}},
                        "y2": {"field": "alt_hi"},
                        "color": {"field": "mission", "type": "nominal", "legend": null,
                                  "scale": {"domain": ["Sputnik3 RMS","Explorer 31 MMS","OGO-2 IMS","OGO-6 IMS","ISIS-2 IMS","AE-C IMS","Akebono SMS","DE-1 RIMS","AMPTE CCE","Geotail STICS","WIND STICS","e-POP"],
                                            "range": ["rgba(253,185,19,0.6)","rgba(141,198,63,0.85)","rgba(241,90,41,0.4)","rgba(255,222,0,0.85)","rgba(38,112,196,0.92)","rgba(46,125,50,0.7)","rgba(255,228,92,0.5)","rgba(124,179,66,0.8)","rgba(47,134,214,0.7)","rgba(241,90,41,0.4)","rgba(106,168,79,0.5)","rgba(63,81,181,0.55)"]}}
                      }
                    },
                    {
                      "data": {"name": "lab_small"},
                      "mark": {"type": "text", "fontSize": 23},
                      "encoding": {
                        "x": {"field": "year", "type": "quantitative"},
                        "y": {"field": "alt", "type": "quantitative"},
                        "text": {"field": "label"},
                        "fill": {"field": "mission", "type": "nominal", "legend": null,
                                 "scale": {"domain": ["Sputnik3 RMS","Explorer 31 MMS","OGO-2 IMS","OGO-6 IMS","ISIS-2 IMS","AE-C IMS","Akebono SMS","DE-1 RIMS","AMPTE CCE","Geotail STICS","WIND STICS","e-POP"],
                                           "range": ["#F7941D","#4E9A3A","#EF3E2E","#F7941D","#1C3C8C","#2F7A3A","#F7941D","#1E4A1E","#2E3192","#ED1C24","#1F3D1F","#2E3A9A"]}}
                      }
                    },
                    {
                      "data": {"name": "lab_isis"},
                      "mark": {"type": "text", "fontSize": 29},
                      "encoding": {
                        "x": {"field": "year", "type": "quantitative"},
                        "y": {"field": "alt", "type": "quantitative"},
                        "text": {"field": "label"},
                        "fill": {"field": "mission", "type": "nominal", "legend": null}
                      }
                    },
                    {
                      "data": {"name": "lab_mid"},
                      "mark": {"type": "text", "fontSize": 34},
                      "encoding": {
                        "x": {"field": "year", "type": "quantitative"},
                        "y": {"field": "alt", "type": "quantitative"},
                        "text": {"field": "label"},
                        "fill": {"field": "mission", "type": "nominal", "legend": null}
                      }
                    },
                    {
                      "data": {"name": "lab_right"},
                      "mark": {"type": "text", "fontSize": 39, "align": "right"},
                      "encoding": {
                        "x": {"field": "year", "type": "quantitative"},
                        "y": {"field": "alt", "type": "quantitative"},
                        "text": {"field": "label"},
                        "fill": {"field": "mission", "type": "nominal", "legend": null}
                      }
                    },
                    {
                      "data": {"name": "lab_left"},
                      "mark": {"type": "text", "fontSize": 34, "align": "left"},
                      "encoding": {
                        "x": {"field": "year", "type": "quantitative"},
                        "y": {"field": "alt", "type": "quantitative"},
                        "text": {"field": "label"},
                        "fill": {"field": "mission", "type": "nominal", "legend": null}
                      }
                    }
                  ]
                }
              ],
              "resolve": {"scale": {"y": "independent"}}
            },
            {
              "width": 376, "height": 712,
              "data": {"values": [{"n":0,"t":"operating"},{"n":1,"t":"altitude &"},{"n":2,"t":"lifetime of"},{"n":3,"t":"nitrogen-"},{"n":4,"t":"measuring"},{"n":5,"t":"missions"}]},
              "mark": {"type": "text", "fontSize": 68, "fontStyle": "italic", "fontWeight": 300, "color": "#162A4E"},
              "encoding": {
                "y": {"field": "n", "type": "quantitative", "scale": {"domain": [-2.70, 6.499], "reverse": true, "nice": false, "zero": false}, "axis": null},
                "text": {"field": "t"}
              }
            }
          ],
          "spacing": 130,
          "bounds": "flush",
          "resolve": {"scale": {"color": "independent", "fill": "independent", "stroke": "independent", "shape": "independent", "size": "independent"}, "legend": {"color": "independent", "fill": "independent", "stroke": "independent", "shape": "independent", "size": "independent"}}
        },
        {
          "concat": [
            {
              "width": 4, "height": 10,
              "data": {"values": [{"t": ""}]},
              "mark": {"type": "text"},
              "encoding": {"text": {"field": "t"}}
            },
            {
              "width": 1121, "height": 293,
              "view": {"stroke": "#3A3A3A", "strokeWidth": 3},
              "layer": [
                {
                  "layer": [
                    {
                      "data": {"name": "dst"},
                      "mark": {"type": "line", "color": "#111111", "strokeWidth": 2.2},
                      "encoding": {
                        "x": {"field": "day", "type": "quantitative", "scale": {"domain": [37, 42.5], "nice": false, "zero": false},
                              "axis": {"values": [38,39,40,41,42], "labels": false, "title": null, "tickSize": -10, "tickWidth": 2.5, "tickColor": "#3A3A3A"}},
                        "y": {"field": "dst", "type": "quantitative", "scale": {"domain": [-350, 100], "nice": false, "zero": false},
                              "axis": {"title": "Dst (nT)", "values": [-300,-200,-100,0,100], "labelFont": "Roboto", "labelFontWeight": 300, "labelFontSize": 34, "labelColor": "#333333", "titleFontSize": 42, "tickSize": -10, "tickWidth": 2.5, "tickColor": "#3A3A3A", "labelPadding": 19, "titleX": -130, "titleBaseline": "top"}}
                      }
                    },
                    {
                      "data": {"name": "passes"},
                      "mark": {"type": "rule", "strokeWidth": 3.5, "color": "#111111"},
                      "encoding": {
                        "x": {"field": "d0", "type": "quantitative"},
                        "x2": {"field": "d1"},
                        "y": {"datum": 28.7, "type": "quantitative"}
                      }
                    },
                    {
                      "data": {"name": "passes"},
                      "mark": {"type": "text", "font": "Roboto", "fontWeight": 300, "fontSize": 30, "color": "#111111"},
                      "encoding": {
                        "x": {"field": "day", "type": "quantitative"},
                        "y": {"datum": 61, "type": "quantitative"},
                        "text": {"field": "pass"}
                      }
                    },
                    {
                      "data": {"values": [{"t": "Pass"}]},
                      "mark": {"type": "text", "font": "Roboto", "fontWeight": 300, "fontSize": 34, "color": "#111111"},
                      "encoding": {
                        "x": {"datum": 40.46, "type": "quantitative"},
                        "y": {"datum": -29, "type": "quantitative"},
                        "text": {"field": "t"}
                      }
                    }
                  ]
                },
                {
                  "data": {"name": "crosses"},
                  "mark": {"type": "point", "shape": "M-1,0H1M0,-1V1", "size": 220, "filled": false, "strokeWidth": 1.5, "color": "#111111", "opacity": 1},
                  "encoding": {
                    "x": {"field": "day", "type": "quantitative",
                          "axis": {"orient": "top", "values": [38,39,40,41,42], "labels": false, "title": null, "tickSize": -10, "tickWidth": 2.5, "tickColor": "#3A3A3A"}},
                    "y": {"field": "ed", "type": "quantitative", "scale": {"domain": [-151, 695], "reverse": true, "nice": false, "zero": false},
                          "axis": {"orient": "right", "title": "Energy Density", "titleAngle": 270, "titleBaseline": "top", "values": [0,200,400,600], "labelFont": "Roboto", "labelFontWeight": 300, "labelFontSize": 34, "labelColor": "#333333", "titleFontSize": 42, "tickSize": -10, "tickWidth": 2.5, "tickColor": "#3A3A3A", "labelPadding": 19, "titlePadding": 17}}
                  }
                }
              ],
              "resolve": {"scale": {"y": "independent"}, "axis": {"x": "independent"}}
            },
            {
              "width": 10, "height": 10,
              "data": {"values": [{"t": ""}]},
              "mark": {"type": "text"},
              "encoding": {"text": {"field": "t"}}
            },
            {
              "width": 4, "height": 10,
              "data": {"values": [{"t": ""}]},
              "mark": {"type": "text"},
              "encoding": {"text": {"field": "t"}}
            },
            {
              "width": 1121, "height": 293,
              "view": {"stroke": "#3A3A3A", "strokeWidth": 3},
              "layer": [
                {
                  "layer": [
                    {
                      "data": {"name": "l35"},
                      "mark": {"type": "line", "strokeDash": [14, 9], "strokeWidth": 3.5},
                      "encoding": {
                        "x": {"field": "day", "type": "quantitative", "scale": {"domain": [37, 42.5], "nice": false, "zero": false},
                              "axis": {"values": [38,39,40,41,42], "labels": false, "title": null, "tickSize": -10, "tickWidth": 2.5, "tickColor": "#3A3A3A"}},
                        "y": {"field": "v", "type": "quantitative", "scale": {"type": "log", "domain": [0.0501, 1000], "nice": false},
                              "axis": {"title": "Energy Density", "values": [0.06,0.07,0.08,0.09,0.1,0.2,0.3,0.4,0.5,0.6,0.7,0.8,0.9,1,2,3,4,5,6,7,8,9,10,20,30,40,50,60,70,80,90,100,200,300,400,500,600,700,800,900,1000],
                                       "labelExpr": "abs(log(datum.value)/LN10 - round(log(datum.value)/LN10)) < 0.01 ? ('10' + (datum.value >= 999 ? '³' : datum.value >= 99 ? '²' : datum.value >= 9 ? '¹' : datum.value >= 0.9 ? '⁰' : '⁻¹')) : ''",
                                       "labelFont": "Roboto", "labelFontWeight": 300, "labelFontSize": 32, "labelColor": "#333333", "titleFontSize": 42, "titleColor": "#555555", "tickSize": -8, "tickWidth": 2.5, "tickColor": "#3A3A3A", "labelPadding": 17, "titleX": -130, "titleBaseline": "top"}},
                        "stroke": {"field": "ion", "type": "nominal", "legend": null,
                                   "scale": {"domain": ["H⁺","He⁺","N⁺","O⁺"], "range": ["#BCBD22","#0E7C3A","#F7941D","#3953A4"]}},
                        "detail": {"field": "ion"}
                      }
                    },
                    {
                      "data": {"name": "l35"},
                      "mark": {"type": "point", "filled": true, "opacity": 1, "size": 230},
                      "encoding": {
                        "x": {"field": "day", "type": "quantitative"},
                        "y": {"field": "v", "type": "quantitative"},
                        "fill": {"field": "ion", "type": "nominal",
                                 "scale": {"domain": ["O⁺","N⁺","He⁺","H⁺"], "range": ["#3953A4","#F7941D","#0E7C3A","#BCBD22"]},
                                 "legend": {"orient": "none", "legendX": 627, "legendY": 226, "direction": "horizontal", "title": null, "strokeColor": "#333333", "fillColor": "white", "padding": 12, "columnPadding": 36, "labelOffset": 10, "labelFont": "Roboto", "labelFontWeight": 300, "labelFontSize": 32, "labelColor": "#111111", "symbolSize": 320}},
                        "shape": {"field": "ion", "type": "nominal",
                                  "scale": {"domain": ["O⁺","N⁺","He⁺","H⁺"], "range": ["circle","diamond","square","M-1,-0.12H1V0.12H-1Z M-0.12,-1H0.12V1H-0.12Z M-0.792,-0.622L-0.622,-0.792L0.792,0.622L0.622,0.792Z M-0.622,0.792L-0.792,0.622L0.622,-0.792L0.792,-0.622Z"]},
                                  "legend": {"orient": "none", "legendX": 627, "legendY": 226, "direction": "horizontal", "title": null, "strokeColor": "#333333", "fillColor": "white", "padding": 12, "columnPadding": 36, "labelOffset": 10, "labelFont": "Roboto", "labelFontWeight": 300, "labelFontSize": 32, "labelColor": "#111111", "symbolSize": 320}}
                      }
                    }
                  ]
                },
                {
                  "data": {"values": [{"t": "L = 3-5"}]},
                  "mark": {"type": "text", "align": "left", "font": "Roboto", "fontWeight": 300, "fontSize": 36, "color": "#111111"},
                  "encoding": {
                    "x": {"datum": 37.31, "type": "quantitative",
                          "axis": {"orient": "top", "values": [38,39,40,41,42], "labels": false, "title": null, "tickSize": -10, "tickWidth": 2.5, "tickColor": "#3A3A3A"}},
                    "y": {"datum": 340, "type": "quantitative",
                          "axis": {"orient": "right", "values": [0.06,0.07,0.08,0.09,0.1,0.2,0.3,0.4,0.5,0.6,0.7,0.8,0.9,1,2,3,4,5,6,7,8,9,10,20,30,40,50,60,70,80,90,100,200,300,400,500,600,700,800,900,1000], "labels": false, "title": null, "tickSize": -8, "tickWidth": 2.5, "tickColor": "#3A3A3A"}},
                    "text": {"field": "t"}
                  }
                }
              ],
              "resolve": {"axis": {"x": "independent", "y": "independent"}}
            },
            {
              "width": 296, "height": 293,
              "data": {"values": [{"n":0,"t":"Dst index &"},{"n":1,"t":"ion energy"},{"n":2,"t":"density trends"},{"n":3,"t":"(AMPTE in"},{"n":4,"t":"1986)"}]},
              "mark": {"type": "text", "fontSize": 68, "fontStyle": "italic", "fontWeight": 300, "color": "#162A4E"},
              "encoding": {
                "y": {"field": "n", "type": "quantitative", "scale": {"domain": [-2.227, 1.566], "reverse": true, "nice": false, "zero": false}, "axis": null},
                "text": {"field": "t"}
              }
            },
            {
              "width": 4, "height": 10,
              "data": {"values": [{"t": ""}]},
              "mark": {"type": "text"},
              "encoding": {"text": {"field": "t"}}
            },
            {
              "width": 1121, "height": 292,
              "view": {"stroke": "#3A3A3A", "strokeWidth": 3},
              "layer": [
                {
                  "layer": [
                    {
                      "data": {"name": "l57"},
                      "mark": {"type": "line", "strokeDash": [14, 9], "strokeWidth": 3.5},
                      "encoding": {
                        "x": {"field": "day", "type": "quantitative", "scale": {"domain": [37, 42.5], "nice": false, "zero": false},
                              "axis": {"values": [37,38,39,40,41,42], "title": null, "tickSize": -10, "tickWidth": 2.5, "tickColor": "#3A3A3A",
                                       "labelExpr": "['00:00', '0' + format(datum.value, 'd'), (datum.value < 41 ? '0' : '') + format(datum.value - 31, 'd') + 'Feb']",
                                       "labelAlign": "left", "labelOffset": -52, "labelBaseline": "top", "labelLineHeight": 54, "labelFont": "Roboto", "labelFontWeight": 300, "labelFontSize": 38, "labelColor": "#4D4D4D", "labelPadding": 26, "labelFlush": false}},
                        "y": {"field": "v", "type": "quantitative", "scale": {"type": "log", "domain": [0.0494, 100], "nice": false},
                              "axis": {"title": "Energy Density", "values": [0.05,0.06,0.07,0.08,0.09,0.1,0.2,0.3,0.4,0.5,0.6,0.7,0.8,0.9,1,2,3,4,5,6,7,8,9,10,20,30,40,50,60,70,80,90,100],
                                       "labelExpr": "abs(log(datum.value)/LN10 - round(log(datum.value)/LN10)) < 0.01 ? ('10' + (datum.value >= 99 ? '²' : datum.value >= 9 ? '¹' : datum.value >= 0.9 ? '⁰' : '⁻¹')) : ''",
                                       "labelFont": "Roboto", "labelFontWeight": 300, "labelFontSize": 32, "labelColor": "#333333", "titleFontSize": 42, "titleColor": "#555555", "tickSize": -8, "tickWidth": 2.5, "tickColor": "#3A3A3A", "labelPadding": 17, "titleX": -130, "titleBaseline": "top"}},
                        "stroke": {"field": "ion", "type": "nominal", "legend": null,
                                   "scale": {"domain": ["H⁺","He⁺","N⁺","O⁺"], "range": ["#BCBD22","#0E7C3A","#F7941D","#3953A4"]}},
                        "detail": {"field": "ion"}
                      }
                    },
                    {
                      "data": {"name": "l57"},
                      "mark": {"type": "point", "filled": true, "opacity": 1, "size": 230},
                      "encoding": {
                        "x": {"field": "day", "type": "quantitative"},
                        "y": {"field": "v", "type": "quantitative"},
                        "fill": {"field": "ion", "type": "nominal", "legend": null,
                                 "scale": {"domain": ["O⁺","N⁺","He⁺","H⁺"], "range": ["#3953A4","#F7941D","#0E7C3A","#BCBD22"]}},
                        "shape": {"field": "ion", "type": "nominal", "legend": null,
                                  "scale": {"domain": ["O⁺","N⁺","He⁺","H⁺"], "range": ["circle","diamond","square","diamond"]}}
                      }
                    }
                  ]
                },
                {
                  "data": {"values": [{"t": "L = 5-7"}]},
                  "mark": {"type": "text", "align": "left", "font": "Roboto", "fontWeight": 300, "fontSize": 36, "color": "#111111"},
                  "encoding": {
                    "x": {"datum": 37.31, "type": "quantitative",
                          "axis": {"orient": "top", "values": [38,39,40,41,42], "labels": false, "title": null, "tickSize": -10, "tickWidth": 2.5, "tickColor": "#3A3A3A"}},
                    "y": {"datum": 47, "type": "quantitative",
                          "axis": {"orient": "right", "values": [0.05,0.06,0.07,0.08,0.09,0.1,0.2,0.3,0.4,0.5,0.6,0.7,0.8,0.9,1,2,3,4,5,6,7,8,9,10,20,30,40,50,60,70,80,90,100], "labels": false, "title": null, "tickSize": -8, "tickWidth": 2.5, "tickColor": "#3A3A3A"}},
                    "text": {"field": "t"}
                  }
                }
              ],
              "resolve": {"axis": {"x": "independent", "y": "independent"}}
            },
            {
              "width": 10, "height": 10,
              "data": {"values": [{"t": ""}]},
              "mark": {"type": "text"},
              "encoding": {"text": {"field": "t"}}
            }
          ],
          "columns": 3,
          "spacing": {"row": 35, "column": 130},
          "bounds": "flush",
          "resolve": {"scale": {"color": "independent", "fill": "independent", "stroke": "independent", "shape": "independent", "size": "independent"}, "legend": {"color": "independent", "fill": "independent", "stroke": "independent", "shape": "independent", "size": "independent"}}
        }
      ],
      "spacing": 57,
      "resolve": {"scale": {"color": "independent", "fill": "independent", "stroke": "independent", "shape": "independent", "size": "independent"}, "legend": {"color": "independent", "fill": "independent", "stroke": "independent", "shape": "independent", "size": "independent"}}
    },
    {
      "concat": [
        {
          "width": 27, "height": 10,
          "data": {"values": [{"t": ""}]},
          "mark": {"type": "text"},
          "encoding": {"text": {"field": "t"}}
        },
        {
          "width": 853, "height": 183,
          "view": {"stroke": "#555555", "strokeWidth": 1.5},
          "layer": [
            {
              "layer": [
                {
                  "data": {"values": [{"z": 0}]},
                  "mark": {"type": "rule", "strokeDash": [3, 3], "strokeWidth": 3, "color": "#111111"},
                  "encoding": {
                    "y": {"field": "z", "type": "quantitative", "scale": {"domain": [-2, 3], "nice": false, "zero": false},
                          "axis": {"title": "Kp", "values": [-1,0,1,2,3], "labelFont": "Roboto", "labelFontWeight": 300, "labelFontSize": 30, "labelColor": "#333333", "titleFontSize": 40, "tickSize": -8, "tickWidth": 1.5, "tickColor": "#555555", "labelPadding": 19, "titleX": -88, "titleBaseline": "top"}}
                  }
                },
                {
                  "data": {"name": "kp"},
                  "mark": {"type": "line", "color": "#111111", "strokeWidth": 4},
                  "encoding": {
                    "x": {"field": "year", "type": "quantitative", "scale": {"domain": [1990, 2002], "nice": false, "zero": false},
                          "axis": {"values": [1992,1994,1996,1998,2000], "labels": false, "title": null, "tickSize": -8, "tickWidth": 1.5, "tickColor": "#555555"}},
                    "y": {"field": "kp", "type": "quantitative"},
                    "detail": {"field": "series"}
                  }
                },
                {
                  "data": {"name": "kp"},
                  "mark": {"type": "point", "filled": true, "color": "#111111", "opacity": 1},
                  "encoding": {
                    "x": {"field": "year", "type": "quantitative"},
                    "y": {"field": "kp", "type": "quantitative"},
                    "shape": {"field": "series", "type": "nominal",
                              "scale": {"domain": ["<Kp> ~ 2 month","<KP> Event Average","<Dst> ~ 2 month","<Dst> Event Average"], "range": ["square","square","diamond","diamond"]},
                              "legend": {"orient": "none", "legendX": 18, "legendY": 13, "title": null, "strokeColor": "#555555", "fillColor": "white", "padding": 10, "rowPadding": 2, "labelOffset": 12, "labelFont": "Roboto", "labelFontWeight": 300, "labelFontSize": 21, "labelColor": "#111111", "symbolFillColor": "#111111", "symbolStrokeColor": "#111111", "labelLimit": 300}},
                    "size": {"field": "series", "type": "nominal",
                             "scale": {"type": "ordinal", "domain": ["<Kp> ~ 2 month","<KP> Event Average","<Dst> ~ 2 month","<Dst> Event Average"], "range": [650,150,700,280]},
                             "legend": {"orient": "none", "legendX": 18, "legendY": 13, "title": null, "strokeColor": "#555555", "fillColor": "white", "padding": 10, "rowPadding": 2, "labelOffset": 12, "labelFont": "Roboto", "labelFontWeight": 300, "labelFontSize": 21, "labelColor": "#111111", "symbolFillColor": "#111111", "symbolStrokeColor": "#111111", "labelLimit": 300}}
                  }
                }
              ]
            },
            {
              "layer": [
                {
                  "data": {"name": "dstavg"},
                  "mark": {"type": "line", "color": "#111111", "strokeWidth": 4, "strokeDash": [12, 9]},
                  "encoding": {
                    "x": {"field": "year", "type": "quantitative",
                          "axis": {"orient": "top", "values": [1992,1994,1996,1998,2000], "labels": false, "title": null, "tickSize": -8, "tickWidth": 1.5, "tickColor": "#555555"}},
                    "y": {"field": "dst", "type": "quantitative", "scale": {"domain": [-20, 30], "nice": false, "zero": false},
                          "axis": {"orient": "right", "title": "DST (nT)", "titleAngle": 270, "titleBaseline": "top", "values": [-20,-10,0,10,20,30], "labelFont": "Roboto", "labelFontWeight": 300, "labelFontSize": 29, "labelColor": "#333333", "titleFontSize": 36, "tickSize": -8, "tickWidth": 1.5, "tickColor": "#555555", "labelPadding": 18, "labelOverlap": false, "labelSeparation": -20, "titlePadding": 17}},
                    "detail": {"field": "series"}
                  }
                },
                {
                  "data": {"name": "dstavg"},
                  "mark": {"type": "point", "filled": true, "color": "#111111", "opacity": 1},
                  "encoding": {
                    "x": {"field": "year", "type": "quantitative"},
                    "y": {"field": "dst", "type": "quantitative",
                          "axis": {"orient": "right", "title": "DST (nT)", "titleAngle": 270, "titleBaseline": "top", "values": [-20,-10,0,10,20,30], "labelFont": "Roboto", "labelFontWeight": 300, "labelFontSize": 29, "labelColor": "#333333", "titleFontSize": 36, "tickSize": -8, "tickWidth": 1.5, "tickColor": "#555555", "labelPadding": 18, "labelOverlap": false, "labelSeparation": -20, "titlePadding": 17}},
                    "shape": {"field": "series", "type": "nominal",
                              "scale": {"domain": ["<Kp> ~ 2 month","<KP> Event Average","<Dst> ~ 2 month","<Dst> Event Average"], "range": ["square","square","diamond","diamond"]}},
                    "size": {"field": "series", "type": "nominal",
                             "scale": {"type": "ordinal", "domain": ["<Kp> ~ 2 month","<KP> Event Average","<Dst> ~ 2 month","<Dst> Event Average"], "range": [650,150,700,280]}}
                  }
                }
              ]
            }
          ],
          "resolve": {"scale": {"y": "independent"}, "axis": {"x": "independent"}}
        },
        {
          "width": 10, "height": 10,
          "data": {"values": [{"t": ""}]},
          "mark": {"type": "text"},
          "encoding": {"text": {"field": "t"}}
        },
        {
          "width": 27, "height": 10,
          "data": {"values": [{"t": ""}]},
          "mark": {"type": "text"},
          "encoding": {"text": {"field": "t"}}
        },
        {
          "width": 853, "height": 567,
          "view": {"stroke": "#555555", "strokeWidth": 1.5},
          "layer": [
            {
              "data": {"name": "f107"},
              "mark": {"type": "line", "interpolate": "step-after", "strokeWidth": 2.5},
              "encoding": {
                "x": {"field": "year", "type": "quantitative", "scale": {"domain": [1990, 2002], "nice": false, "zero": false},
                      "axis": {"orient": "top", "values": [1992,1994,1996,1998,2000], "labels": false, "title": null, "tickSize": -8, "tickWidth": 1.5, "tickColor": "#555555"}},
                "y": {"field": "f107", "type": "quantitative", "scale": {"domain": [50, 230], "nice": false, "zero": false},
                      "axis": {"orient": "right", "title": "F10.7 [sfu]", "titleAngle": 270, "titleBaseline": "top", "values": [50,100,150,200], "labelFont": "Roboto", "labelFontWeight": 300, "labelFontSize": 32, "labelColor": "#333333", "titleFontSize": 34, "tickSize": -8, "tickWidth": 1.5, "tickColor": "#555555", "labelPadding": 18, "titlePadding": 14}},
                "stroke": {"field": "series", "type": "nominal",
                           "scale": {"domain": ["N⁺/O⁺ PHA ratio","N⁺/O⁺ Flux ratio","F10.7"], "range": ["#C24FAB","#C24FAB","#A51C30"]},
                           "legend": {"orient": "none", "legendX": 264, "legendY": 268, "title": null, "strokeColor": "#555555", "fillColor": "white", "padding": 18, "rowPadding": 0, "labelOffset": 22, "labelFont": "Roboto", "labelFontWeight": 300, "labelFontSize": 21, "labelColor": "#111111", "symbolSize": 1024, "symbolStrokeWidth": 3.5,
                                      "encode": {"symbols": {"update": {
                                        "shape": {"signal": "datum.value === 'F10.7' ? 'M-2,0H2' : 'M-2,0H-0.6M0.6,0H2M0.6,0A0.6,0.6 0 1 1 -0.6,0A0.6,0.6 0 1 1 0.6,0'"},
                                        "fill": {"signal": "datum.value === 'N⁺/O⁺ PHA ratio' ? '#111111' : 'transparent'"}}}}}}
              }
            },
            {
              "layer": [
                {
                  "data": {"name": "ratio"},
                  "mark": {"type": "line", "strokeWidth": 3.5},
                  "encoding": {
                    "x": {"field": "year", "type": "quantitative",
                          "axis": {"values": [1990,1992,1994,1996,1998,2000,2002], "format": "d", "title": null, "labelFont": "Roboto", "labelFontWeight": 300, "labelFontSize": 33, "labelColor": "#333333", "tickSize": -8, "tickWidth": 1.5, "tickColor": "#555555", "labelPadding": 28, "labelFlush": false}},
                    "y": {"field": "r", "type": "quantitative", "title": "N⁺/O⁺", "scale": {"domain": [0.15, 0.4603], "nice": false, "zero": false},
                          "axis": {"title": "N⁺/O⁺", "values": [0.15,0.2,0.25,0.3,0.35,0.4,0.45], "labelExpr": "format(datum.value, '.2~f')", "labelFont": "Roboto", "labelFontWeight": 300, "labelFontSize": 32, "labelColor": "#333333", "titleFontSize": 40, "tickSize": -8, "tickWidth": 1.5, "tickColor": "#555555", "labelPadding": 19, "titleX": -130, "titleBaseline": "top"}},
                    "stroke": {"field": "series", "type": "nominal"}
                  }
                },
                {
                  "data": {"name": "ratio_err"},
                  "mark": {"type": "errorbar", "color": "#C24FAB", "thickness": 3, "ticks": {"size": 12}},
                  "encoding": {
                    "x": {"field": "year", "type": "quantitative"},
                    "y": {"field": "lo", "type": "quantitative", "title": "N⁺/O⁺"},
                    "y2": {"field": "hi"}
                  }
                },
                {
                  "data": {"name": "ratio"},
                  "transform": [{"filter": "datum.series === 'N⁺/O⁺ PHA ratio'"}],
                  "mark": {"type": "point", "filled": true, "color": "#111111", "size": 560, "opacity": 1},
                  "encoding": {
                    "x": {"field": "year", "type": "quantitative"},
                    "y": {"field": "r", "type": "quantitative", "title": "N⁺/O⁺"}
                  }
                },
                {
                  "data": {"name": "ratio"},
                  "transform": [{"filter": "datum.series === 'N⁺/O⁺ Flux ratio'"}],
                  "mark": {"type": "point", "filled": false, "color": "#111111", "size": 520, "strokeWidth": 3.5, "opacity": 1},
                  "encoding": {
                    "x": {"field": "year", "type": "quantitative"},
                    "y": {"field": "r", "type": "quantitative", "title": "N⁺/O⁺"}
                  }
                },
                {
                  "data": {"values": [{"t": "Geotail/EPIC/STICS"}]},
                  "mark": {"type": "text", "font": "Roboto", "fontWeight": 300, "fontSize": 27, "color": "#111111"},
                  "encoding": {
                    "x": {"datum": 1995.43, "type": "quantitative"},
                    "y": {"datum": 0.3215, "type": "quantitative", "title": "N⁺/O⁺"},
                    "text": {"field": "t"}
                  }
                }
              ]
            }
          ],
          "resolve": {"scale": {"y": "independent"}, "axis": {"x": "independent"}}
        },
        {
          "width": 600, "height": 567,
          "data": {"values": [{"n":0,"t":"solar activity &"},{"n":1,"t":"N+/O+ ratio trends"},{"n":2,"t":"(Geotail,"},{"n":3,"t":"from 1990 to 2002)"}]},
          "mark": {"type": "text", "fontSize": 68, "fontStyle": "italic", "fontWeight": 300, "color": "#162A4E"},
          "encoding": {
            "y": {"field": "n", "type": "quantitative", "scale": {"domain": [-1.052, 6.312], "reverse": true, "nice": false, "zero": false}, "axis": null},
            "text": {"field": "t"}
          }
        }
      ],
      "columns": 3,
      "spacing": {"row": 27, "column": 130},
      "bounds": "flush",
      "resolve": {"scale": {"color": "independent", "fill": "independent", "stroke": "independent", "shape": "independent", "size": "independent"}, "legend": {"color": "independent", "fill": "independent", "stroke": "independent", "shape": "independent", "size": "independent"}}
    }
  ],
  "spacing": 29,
  "resolve": {"scale": {"color": "independent", "fill": "independent", "stroke": "independent", "shape": "independent", "size": "independent"}, "legend": {"color": "independent", "fill": "independent", "stroke": "independent", "shape": "independent", "size": "independent"}}
}
